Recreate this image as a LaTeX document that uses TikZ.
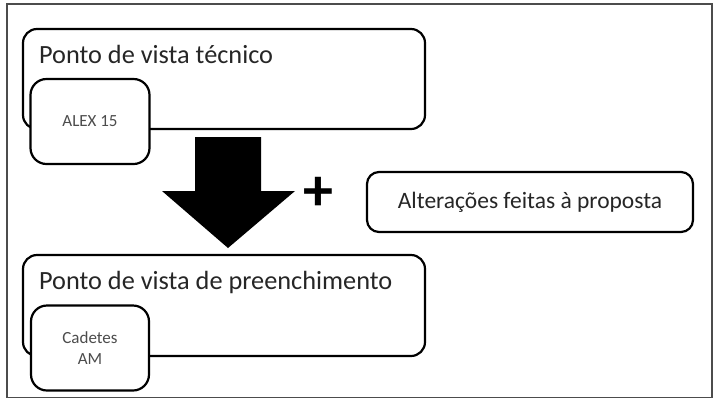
\documentclass[tikz,border=0pt]{standalone}
\usepackage{fontspec}
\setmainfont{Carlito}
\usetikzlibrary{positioning, calc}

\begin{document}
\begin{tikzpicture}[
  x=1pt, y=-1pt,
  %% large view boxes
  vbox/.style={
    rectangle, draw=black, line width=2.2pt, rounded corners=14pt,
    minimum width=402pt, minimum height=100pt, fill=white
  },
  %% small inner boxes
  sbox/.style={
    rectangle, draw=black, line width=2.2pt, rounded corners=16pt,
    minimum width=118pt, minimum height=85pt, align=center,
    fill=white, text=black!70, font=\fontsize{17}{21}\selectfont
  },
  %% box titles
  vtitle/.style={
    anchor=base west, inner sep=0pt, text=black!85,
    font=\fontsize{26.3}{30}\selectfont
  },
  %% side box
  abox/.style={
    rectangle, draw=black, line width=2.2pt, rounded corners=12pt,
    minimum width=326pt, minimum height=60pt,
    fill=white, text=black!85, font=\fontsize{23.5}{26}\selectfont
  },
  frame/.style={draw=black!70, line width=1.4pt}
]
\useasboundingbox (0,0) rectangle (719,400);

%% ================================================================
%% OUTER FRAME
%% ================================================================
\draw[frame] (7,4) rectangle (712,397.5);

%% ================================================================
%% TECHNICAL VIEW
%% ================================================================
\node[vbox] (techbox) at (224,79) {};
\node[vtitle] (techtitle) at ($(techbox.north west)+(17,36)$)
  {Ponto de vista técnico};
\node[sbox, minimum width=119pt] (alexbox) at (90,121.5) {ALEX 15};

%% ================================================================
%% BIG ARROW AND CHANGES
%% ================================================================
\coordinate (arrtop) at (228,137);
\coordinate (arrtip) at (228,248);
\fill[black] ($(arrtop)+(-33,0)$) -- ($(arrtop)+(33,0)$)
  -- ($(arrtop)+(33,54)$) -- ($(arrtop)+(67,54)$) -- (arrtip)
  -- ($(arrtop)+(-66,54)$) -- ($(arrtop)+(-33,54)$) -- cycle;

\node[inner sep=0pt, font=\bfseries\fontsize{60}{60}\selectfont]
  (plus) at (318.5,194) {+};

\node[abox] (changes) at (530,202) {Alterações feitas à proposta};

%% ================================================================
%% FILLING VIEW
%% ================================================================
\node[vbox, minimum height=101pt] (fillbox) at (224,305.5) {};
\node[vtitle] (filltitle) at ($(fillbox.north west)+(17,36)$)
  {Ponto de vista de preenchimento};
\node[sbox] (cadbox) at (90,348) {Cadetes\\AM};

\end{tikzpicture}
\end{document}
